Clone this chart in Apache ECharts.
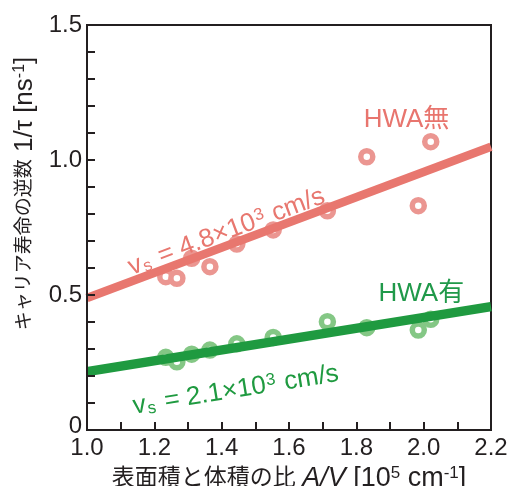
<!DOCTYPE html>
<html>
<head>
<meta charset="utf-8">
<script src="https://cdn.jsdelivr.net/npm/echarts@6/dist/echarts.min.js"></script>
<style>
html, body { margin: 0; padding: 0; background: #fff; }
#marco { position: relative; width: 513px; height: 486px; }
#chart, #marcas { position: absolute; left: 0; top: 0; width: 513px; height: 486px; }
#marcas { pointer-events: none; }
</style>
</head>
<body>
<div id="marco">
<div id="chart"></div>
<div id="marcas"></div>
</div>
<script>
// A/V [10^5 cm^-1]
var xSinHWA = [1.234, 1.267, 1.311, 1.365, 1.445, 1.553, 1.714, 1.831, 1.984, 2.021];
var ySinHWA = [0.568, 0.562, 0.636, 0.605, 0.689, 0.741, 0.812, 1.012, 0.831, 1.068];
var xConHWA = [1.234, 1.267, 1.311, 1.365, 1.445, 1.553, 1.714, 1.831, 1.984, 2.021];
var yConHWA = [0.269, 0.253, 0.281, 0.296, 0.319, 0.343, 0.401, 0.379, 0.370, 0.410];
// rectas de ajuste (extremos)
var ajusteSin = [[1.0, 0.489], [2.2, 1.049]];
var ajusteCon = [[1.0, 0.216], [2.2, 0.457]];
var etiquetaSin = 'HWA無';
var etiquetaCon = 'HWA有';
var posEtiquetaSin = [1.949, 1.148];
var posEtiquetaCon = [1.993, 0.505];
var vsSin = '4.8';
var vsCon = '2.1';

var fuente = "'Liberation Sans', Arial, 'Noto Sans CJK JP', sans-serif";
var negro = '#231f20';
var rojoLinea = '#e8776f';
var rojoTexto = '#e8756e';
var rojoPunto = '#eb9691';
var verdeLinea = '#1f9a40';
var verdeTexto = '#20994a';
var verdePunto = '#84c785';
var rejilla = {left: 87, right: 22, top: 25, bottom: 56};

function pares(xs, ys) {
    var d = [];
    for (var i = 0; i < xs.length; i++) {
        d.push([xs[i], ys[i]]);
    }
    return d;
}

function richVs(color) {
    return {
        v: {fontSize: 26, color: color, fontFamily: fuente},
        sub: {fontSize: 17, color: color, fontFamily: fuente, verticalAlign: 'bottom', padding: [0, 2, 0, 1]},
        sup: {fontSize: 17, color: color, fontFamily: fuente, verticalAlign: 'top', padding: [0, 1, 0, 1]}
    };
}

function serieAjuste(nombre, puntos, color, ancho, texto, pos, distancia) {
    return {
        name: nombre,
        type: 'line',
        data: [],
        z: 1,
        silent: true,
        markLine: {
            silent: true,
            animation: false,
            symbol: ['none', 'none'],
            lineStyle: {color: color, width: ancho, type: 'solid'},
            label: {
                show: true,
                position: pos,
                distance: distancia,
                formatter: '{v|v}{sub|s}{v| = ' + texto + '×10}{sup|3}{v| cm/s}',
                rich: richVs(color)
            },
            data: [[{coord: puntos[0]}, {coord: puntos[1]}]]
        }
    };
}

function serieEtiqueta(nombre, pos, texto, color) {
    return {
        name: nombre,
        type: 'scatter',
        data: [],
        silent: true,
        markPoint: {
            silent: true,
            animation: false,
            symbol: 'circle',
            symbolSize: 0,
            label: {
                show: true,
                position: 'inside',
                formatter: texto,
                color: color,
                fontSize: 26,
                fontFamily: fuente
            },
            data: [{coord: pos}]
        }
    };
}

function seriePuntos(nombre, datos, color) {
    return {
        name: nombre,
        type: 'scatter',
        data: datos,
        z: 3,
        symbol: 'circle',
        symbolSize: 12,
        itemStyle: {color: '#ffffff', borderColor: color, borderWidth: 5.5, opacity: 1}
    };
}

// eje solo con marcas hacia adentro
function ejeMarcas(min, max, intervalo, divisiones) {
    return {
        type: 'value',
        min: min,
        max: max,
        interval: intervalo,
        axisLine: {show: true, onZero: false, lineStyle: {color: negro, width: 2}},
        axisTick: {show: true, inside: true, length: 8, lineStyle: {color: negro, width: 2}},
        minorTick: {show: true, splitNumber: divisiones, length: 8, lineStyle: {color: negro, width: 2}},
        axisLabel: {show: false},
        splitLine: {show: false}
    };
}

var grafico = echarts.init(document.getElementById('chart'), null, {renderer: 'canvas'});

grafico.setOption({
    animation: false,
    backgroundColor: '#ffffff',
    grid: {
        left: rejilla.left, right: rejilla.right, top: rejilla.top, bottom: rejilla.bottom,
        outerBoundsMode: 'none',
        show: true, borderColor: negro, borderWidth: 2
    },
    xAxis: {
        type: 'value',
        min: 1.0,
        max: 2.2,
        interval: 0.2,
        name: '表面積と体積の比 {i|A/V}{l| [10}{sup|5}{l| cm}{sup|-1}{l|]}',
        nameLocation: 'middle',
        nameGap: 28,
        nameTextStyle: {
            color: negro, fontSize: 23, fontFamily: fuente,
            rich: {
                i: {fontSize: 27, fontStyle: 'italic', color: negro, fontFamily: fuente},
                l: {fontSize: 27, color: negro, fontFamily: fuente},
                sup: {fontSize: 17, color: negro, fontFamily: fuente, verticalAlign: 'top'}
            }
        },
        axisLine: {show: true, onZero: false, lineStyle: {color: negro, width: 2}},
        axisTick: {show: true, inside: true, length: 8, lineStyle: {color: negro, width: 2}},
        minorTick: {show: true, splitNumber: 2, length: 8, lineStyle: {color: negro, width: 2}},
        splitLine: {show: false},
        axisLabel: {
            color: negro, fontSize: 24, fontFamily: fuente, margin: 6,
            formatter: function (v) {
                return v.toFixed(1);
            }
        }
    },
    yAxis: {
        type: 'value',
        min: 0,
        max: 1.5,
        interval: 0.5,
        name: 'キャリア寿命の逆数{l| 1/τ [ns}{sup|-1}{l|]}',
        nameLocation: 'middle',
        nameRotate: 90,
        nameGap: 42,
        nameTextStyle: {
            color: negro, fontSize: 19, fontFamily: fuente,
            padding: [0, 0, 0, 68],
            rich: {
                l: {fontSize: 26, color: negro, fontFamily: fuente},
                sup: {fontSize: 16, color: negro, fontFamily: fuente, verticalAlign: 'top'}
            }
        },
        axisLine: {show: true, onZero: false, lineStyle: {color: negro, width: 2}},
        axisTick: {show: true, inside: true, length: 8, lineStyle: {color: negro, width: 2}},
        minorTick: {show: true, splitNumber: 5, length: 8, lineStyle: {color: negro, width: 2}},
        splitLine: {show: false},
        axisLabel: {
            color: negro, fontSize: 24, fontFamily: fuente, margin: 5,
            formatter: function (v) {
                if (v === 0) {
                    return '{z|0}';
                }
                return v.toFixed(1);
            },
            rich: {
                z: {fontSize: 24, color: negro, fontFamily: fuente, padding: [0, 0, 7, 0]}
            }
        }
    },
    series: [
        serieAjuste('ajusteSin', ajusteSin, rojoLinea, 8.5, vsSin, 'insideStartTop', [50, 0]),
        serieAjuste('ajusteCon', ajusteCon, verdeLinea, 9.5, vsCon, 'insideStartBottom', [40, 29]),
        seriePuntos('sinHWA', pares(xSinHWA, ySinHWA), rojoPunto),
        seriePuntos('conHWA', pares(xConHWA, yConHWA), verdePunto),
        serieEtiqueta('etqSin', posEtiquetaSin, etiquetaSin, rojoTexto),
        serieEtiqueta('etqCon', posEtiquetaCon, etiquetaCon, verdeTexto)
    ]
});

// capa transparente con las marcas de los ejes (mismo grid)
var marcas = echarts.init(document.getElementById('marcas'), null, {renderer: 'canvas'});
marcas.setOption({
    animation: false,
    backgroundColor: 'transparent',
    grid: {left: rejilla.left, right: rejilla.right, top: rejilla.top, bottom: rejilla.bottom},
    xAxis: ejeMarcas(1.0, 2.2, 0.2, 2),
    yAxis: ejeMarcas(0, 1.5, 0.5, 5),
    series: [{type: 'scatter', data: [], silent: true}]
});
</script>
</body>
</html>
